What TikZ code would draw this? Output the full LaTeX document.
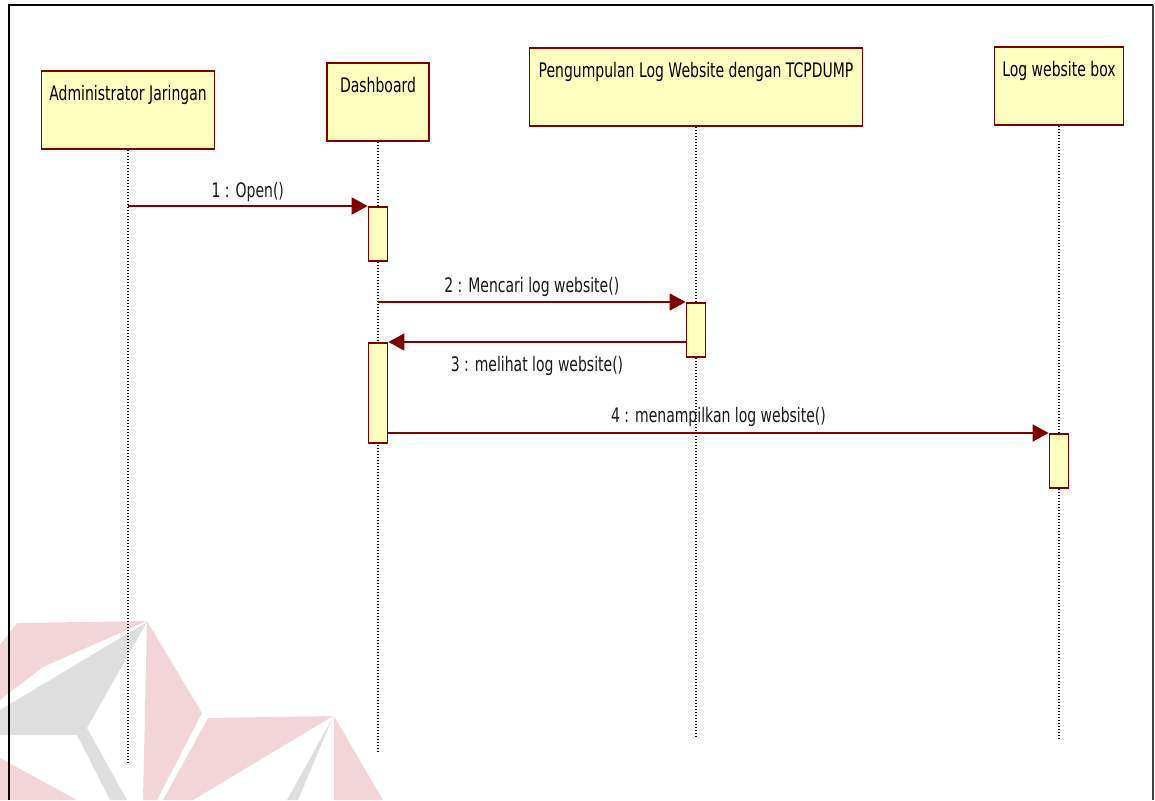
\documentclass[tikz,border=0pt]{standalone}
\usepackage{fontspec}
\setmainfont{DejaVu Sans}[FakeStretch=0.7]
\usetikzlibrary{arrows.meta}
\definecolor{umlred}{RGB}{128,0,0}
\definecolor{umlfill}{RGB}{255,255,192}
\definecolor{wmpink}{RGB}{242,213,217}
\definecolor{wmgray}{RGB}{222,222,222}
\begin{document}
\begin{tikzpicture}[x=1pt,y=-1pt,
  actor/.style={draw=umlred, fill=umlfill, line width=1.8pt, inner xsep=0pt, inner ysep=0pt,
    text height=30pt, text depth=48pt, anchor=north, font=\fontsize{20}{24}\selectfont},
  act/.style={draw=umlred, fill=umlfill, line width=1.8pt, minimum width=19pt, inner sep=0pt, anchor=north},
  lifeline/.style={line width=1.2pt, dash pattern=on 1.5pt off 1.5pt},
  msg/.style={draw=umlred, line width=1.8pt, -{Triangle[length=16pt,width=17pt]}},
  lbl/.style={font=\fontsize{20}{24}\selectfont, anchor=base, inner sep=0pt, text=black!90}]
\useasboundingbox (0,0) rectangle (1155,800);

% background logo shapes
\begin{scope}
  \clip (0,0) rectangle (1155,800);
  \fill[wmpink] (17,623) -- (147,621) -- (43,667) -- (0,700) -- (0,645) -- cycle;
  \fill[wmgray] (147,622) -- (0,710) -- (0,735) -- (77,735) -- (110,800) -- (127,800) -- (87,728) -- cycle;
  \fill[wmpink] (0,758) -- (77,800) -- (0,800) -- cycle;
  \fill[wmpink] (147,621) -- (202,713) -- (157,800) -- (143,800) -- cycle;
  \fill[wmpink] (208,718) -- (333,716) -- (193,800) -- (163,800) -- cycle;
  \fill[wmgray] (333,717) -- (287,800) -- (298,800) -- cycle;
  \fill[wmpink] (334,716) -- (334,800) -- (383,800) -- cycle;
\end{scope}

% frame
\draw[line width=2.3pt] (9,800) -- (9,5) -- (1153,5);
\draw[line width=1.5pt, black!75] (1153,5) -- (1153,800);

% participants
\node[actor, minimum width=173pt] (admin) at (128,70) {Administrator Jaringan};
\node[actor, minimum width=102pt] (dash) at (378,62) {Dashboard};
\node[actor, minimum width=333pt] (peng) at (696,47) {Pengumpulan Log Website dengan TCPDUMP};
\node[actor, minimum width=129pt] (logbox) at (1059,46) {Log website box};

% lifelines
\coordinate (adminEnd) at (128,762);
\coordinate (dashEnd) at (378,753);
\coordinate (pengEnd) at (696,738);
\coordinate (logEnd) at (1059,738);
\draw[lifeline] (admin.south) -- (adminEnd);
\draw[lifeline] (dash.south) -- (dashEnd);
\draw[lifeline] (peng.south) -- (pengEnd);
\draw[lifeline] (logbox.south) -- (logEnd);

% activations
\node[act, minimum height=54pt] (actD1) at (378,206) {};
\node[act, minimum height=54pt] (actP) at (696,302) {};
\node[act, minimum height=100pt] (actD2) at (378,342) {};
\node[act, minimum height=54pt] (actL) at (1059,433) {};

% messages
\draw[msg] (admin.south |- actD1.north) -- (actD1.north west)
  node[lbl, midway, yshift=9pt] {1 : Open()};
\draw[msg] (dash.south |- actP.north) -- (actP.north west)
  node[lbl, midway, yshift=10pt] {2 : Mencari log website()};
\draw[msg] (actP.west |- actD2.north) -- (actD2.north east)
  node[lbl, midway, yshift=-29pt] {3 : melihat log website()};
\draw[msg] (actD2.east |- actL.north) -- (actL.north west)
  node[lbl, midway, yshift=11pt] {4 : menampilkan log website()};
\end{tikzpicture}
\end{document}
